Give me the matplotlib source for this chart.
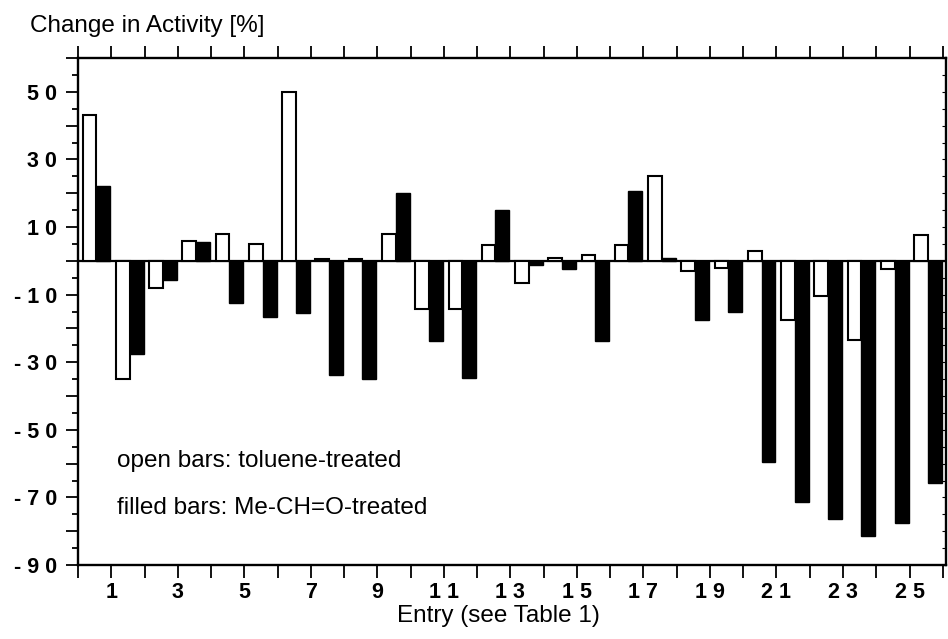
import numpy as np
import matplotlib
matplotlib.use("Agg")
import matplotlib.pyplot as plt

plt.rcParams['font.family'] = ['Liberation Sans', 'DejaVu Sans']

# values (change in activity, %)
entries = np.arange(1, 27)
toluene = [43, -35, -8, 6, 8, 5, 50, 0.6, 0.6, 7.8, -14.3, -14.3, 4.6,
           -6.5, 0.7, 1.7, 4.6, 25, -3, -2, 2.8, -17.5, -10.5, -23.5, -2.5, 7.7]
formaldehyde = [22, -27.5, -5.6, 5.7, -12.5, -16.6, -15.5, -33.9, -35, 20,
                -23.7, -34.7, 15, -1.3, -2.5, -23.7, 20.8, 0.9, -17.5, -15,
                -59.5, -71.4, -76.5, -81.4, -77.6, -65.8]

x_labels = [1, 3, 5, 7, 9, 11, 13, 15, 17, 19, 21, 23, 25]
y_labels = [50, 30, 10, -10, -30, -50, -70, -90]

fig = plt.figure(figsize=(9.48, 6.39), dpi=100)
ax = fig.add_axes([0.0823, 0.1158, 0.9157, 0.7934])

ax.axhline(0, color='black', lw=1.6, zorder=1)
ax.bar(entries - 1 + 0.14, toluene, width=0.41, align='edge',
       facecolor='white', edgecolor='black', linewidth=1.5, zorder=2)
ax.bar(entries - 1 + 0.55, formaldehyde, width=0.42, align='edge',
       facecolor='black', edgecolor='black', linewidth=1.0, zorder=2)

ax.set_xlim(0, 26.1)
ax.set_ylim(-90, 60)

# x ticks: every entry, both top and bottom, labels on odd entries
ax.set_xticks(np.arange(0, 27))
ax.set_xticklabels([" ".join(str(v)) if v in x_labels else "" for v in range(27)],
                   fontweight='bold')
ax.tick_params(axis='x', which='major', direction='out', length=9, width=1.3,
               top=True, bottom=True, labelsize=15.5, pad=3)

# y ticks
ax.set_yticks(np.arange(-90, 61, 10))
ax.set_yticklabels([("- " + " ".join(str(-v)) if v < 0 else " ".join(str(v)))
                    if v in y_labels else "" for v in range(-90, 61, 10)],
                   fontweight='bold')
ax.set_yticks(np.arange(-85, 61, 10), minor=True)
ax.tick_params(axis='y', which='major', direction='out', length=9, width=1.3,
               left=True, right=False, labelsize=15.5, pad=6)
ax.tick_params(axis='y', which='minor', direction='out', length=4.5, width=1.3,
               left=True, right=False)

# faint inward ticks on the right spine
ax2 = ax.twinx()
ax2.set_ylim(-90, 60)
ax2.set_yticks(np.arange(-90, 61, 5))
ax2.tick_params(axis='y', direction='in', length=3, width=0.8, labelright=False)
for s in ax2.spines.values():
    s.set_visible(False)

for s in ax.spines.values():
    s.set_linewidth(1.7)

ax.text(1.17, -61.1, "open bars: toluene-treated", fontsize=17.5, va='baseline')
ax.text(1.17, -75.0, "filled bars: Me-CH=O-treated", fontsize=17.5, va='baseline')

fig.text(0.0316, 0.95, "Change in Activity [%]", fontsize=17.5, va='baseline')
fig.text(0.526, 0.0266, "Entry (see Table 1)", fontsize=17.5, ha='center', va='baseline')

fig.savefig("out.png", dpi=100)
